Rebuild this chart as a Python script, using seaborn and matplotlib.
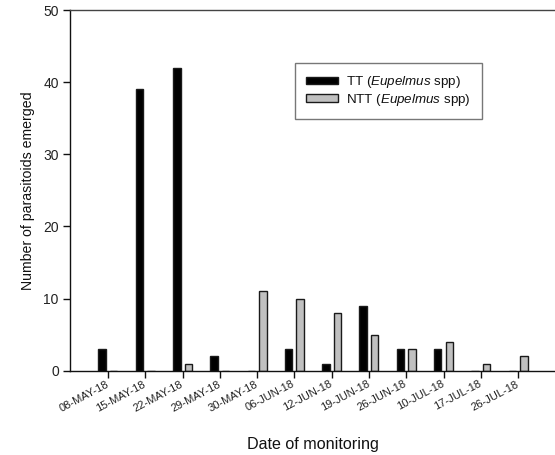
import matplotlib
matplotlib.use("Agg")
import matplotlib.pyplot as plt
import seaborn as sns
import pandas as pd

# Monitoring dates and parasitoid counts per treatment
dates = ["08-MAY-18", "15-MAY-18", "22-MAY-18", "29-MAY-18", "30-MAY-18",
         "06-JUN-18", "12-JUN-18", "19-JUN-18", "26-JUN-18", "10-JUL-18",
         "17-JUL-18", "26-JUL-18"]
tt_counts = [3, 39, 42, 2, 0, 3, 1, 9, 3, 3, 0, 0]
ntt_counts = [0, 0, 1, 0, 11, 10, 8, 5, 3, 4, 1, 2]
groups = ["TT", "NTT"]
legend_labels = [r"TT ($\mathit{Eupelmus}$ spp)", r"NTT ($\mathit{Eupelmus}$ spp)"]
y_ticks = [0, 10, 20, 30, 40, 50]

df = pd.DataFrame({
    "date": dates * 2,
    "count": tt_counts + ntt_counts,
    "group": ["TT"] * len(dates) + ["NTT"] * len(dates),
})

sns.set_theme(style="white")
plt.rcParams["font.family"] = ["Liberation Sans", "DejaVu Sans"]
plt.rcParams["mathtext.fontset"] = "custom"
plt.rcParams["mathtext.rm"] = "Liberation Sans"
plt.rcParams["mathtext.it"] = "Liberation Sans:italic"

fig = plt.figure(figsize=(5.55, 4.55), dpi=100)
ax = fig.add_axes([0.126, 0.185, 0.874, 0.793])

sns.barplot(data=df, x="date", y="count", hue="group", order=dates,
            hue_order=groups, palette={"TT": "black", "NTT": "#c0c0c0"},
            width=0.62, gap=0.35, edgecolor="#1a1a1a", linewidth=1.0,
            errorbar=None, ax=ax, legend=True)

ax.set_xlim(-1.02, 11.99)
ax.set_ylim(0, 50)
ax.set_yticks(y_ticks)

for side in ["left", "bottom", "top"]:
    ax.spines[side].set_visible(True)
    ax.spines[side].set_color("#111111")
    ax.spines[side].set_linewidth(1.0)
ax.spines["top"].set_color("#444444")
ax.spines["right"].set_visible(False)

ax.tick_params(axis="both", which="major", direction="out", length=5,
               width=1, color="#111111", bottom=True, left=True)
ax.tick_params(axis="y", labelsize=10, labelcolor="#222222", pad=3)
ax.tick_params(axis="x", labelsize=8, labelcolor="#222222", pad=4)
for lab in ax.get_xticklabels():
    lab.set_rotation(28)
    lab.set_ha("right")
    lab.set_va("center")
    lab.set_rotation_mode("anchor")

ax.set_xlabel("Date of monitoring", fontsize=11.6, color="#111111", labelpad=17)
ax.set_ylabel("Number of parasitoids emerged", fontsize=10.2, color="#111111",
              labelpad=6)

handles, _ = ax.get_legend_handles_labels()
leg = ax.legend(handles, legend_labels, loc="upper left",
                bbox_to_anchor=(0.464, 0.853), borderaxespad=0,
                fontsize=9.6, frameon=True, fancybox=False, shadow=False,
                handlelength=2.4, handleheight=0.5, handletextpad=0.55,
                labelspacing=0.12, borderpad=0.85)
leg.get_frame().set_edgecolor("#555555")
leg.get_frame().set_linewidth(1.0)
for t in leg.get_texts():
    t.set_color("#111111")

fig.savefig("out.png", dpi=100)
